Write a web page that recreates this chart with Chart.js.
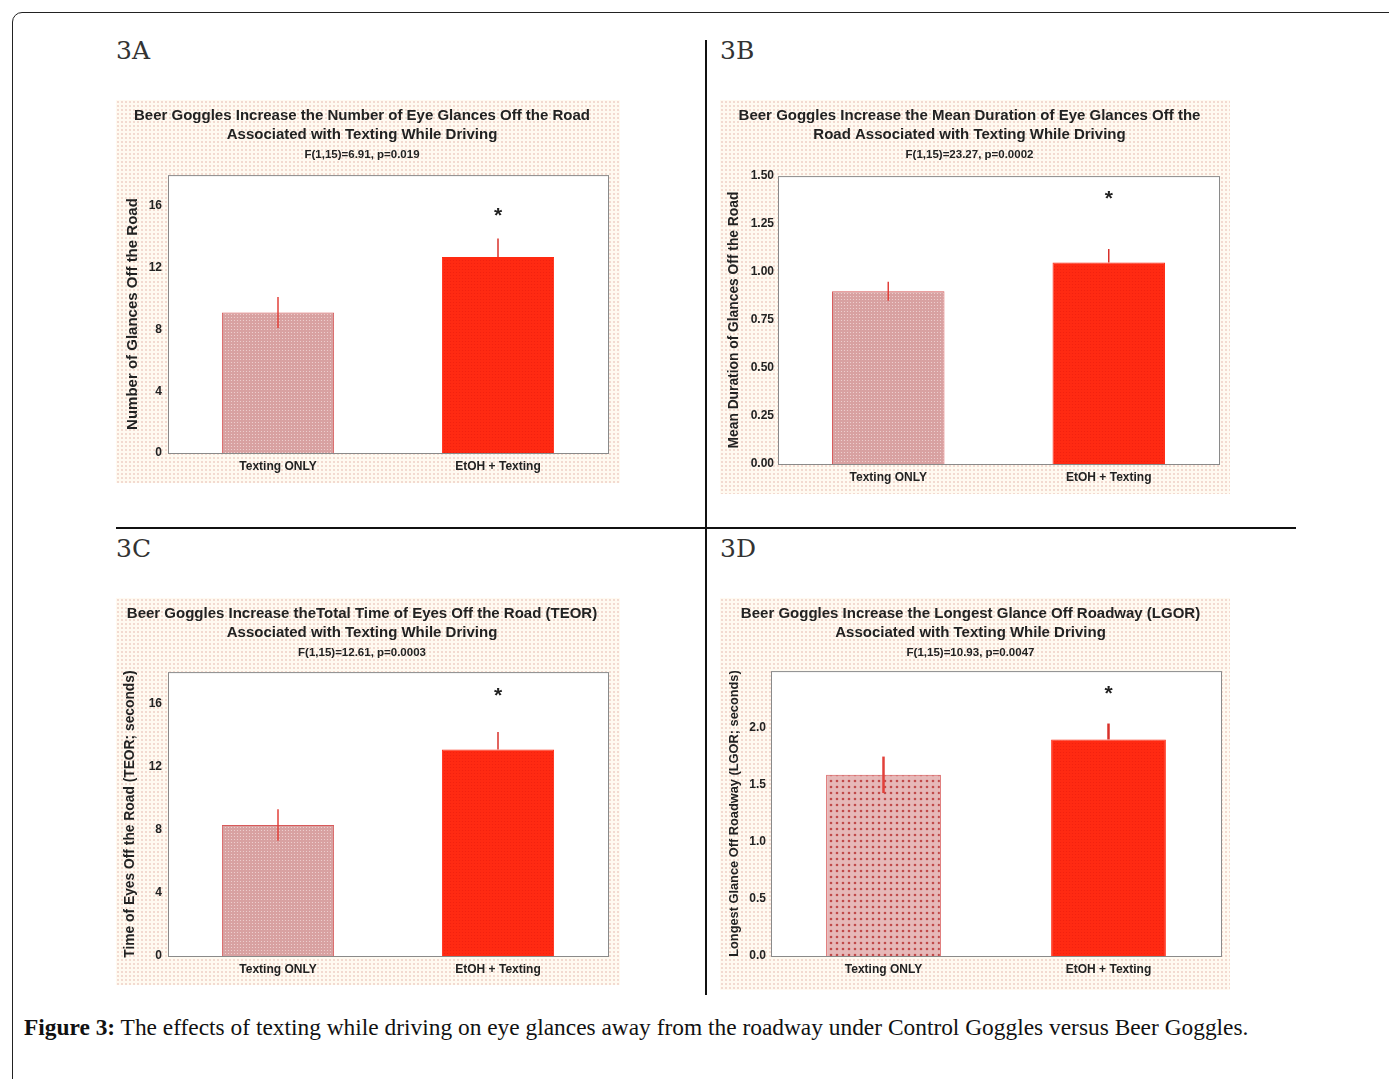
<!DOCTYPE html>
<html>
<head>
<meta charset="utf-8">
<script src="https://cdn.jsdelivr.net/npm/chart.js@4.4.0/dist/chart.umd.min.js"></script>
<style>
  body { margin: 0; width: 1389px; height: 1079px; overflow: hidden; background: #fff; position: relative; }
  .frame { position: absolute; left: 12px; top: 12px; width: 1420px; height: 1120px; border: 1.5px solid #222; border-radius: 10px; }
  .lbl { position: absolute; font-family: "DejaVu Serif", serif; font-size: 25px; color: #333; }
  .vline { position: absolute; left: 705px; top: 40px; width: 2px; height: 955px; background: #111; }
  .hline { position: absolute; left: 116px; top: 527px; width: 1180px; height: 1.5px; background: #111; }
  .panel { position: absolute; background-color: #fffaf1;
    background-image: radial-gradient(#f2d9cf 0.7px, transparent 0.9px);
    background-size: 4px 4px; }
  .caption { position: absolute; left: 24px; top: 1014px; font-family: "Liberation Serif", serif; font-size: 23.4px; color: #111; white-space: nowrap; }
</style>
</head>
<body>
<div class="frame"></div>
<div class="lbl" style="left:116px;top:36px">3A</div>
<div class="lbl" style="left:720px;top:36px">3B</div>
<div class="lbl" style="left:116px;top:534px">3C</div>
<div class="lbl" style="left:720px;top:534px">3D</div>
<div class="vline"></div>
<div class="hline"></div>

<div class="panel" style="left:116px;top:100px;width:504px;height:383px"><canvas id="cA" width="504" height="383"></canvas></div>
<div class="panel" style="left:720px;top:100px;width:510px;height:394px"><canvas id="cB" width="510" height="394"></canvas></div>
<div class="panel" style="left:116px;top:598px;width:504px;height:387px"><canvas id="cC" width="504" height="387"></canvas></div>
<div class="panel" style="left:720px;top:598px;width:510px;height:392px"><canvas id="cD" width="510" height="392"></canvas></div>

<div class="caption"><b>Figure 3:</b> The effects of texting while driving on eye glances away from the roadway under Control Goggles versus Beer Goggles.</div>

<script>
const categories = ['Texting ONLY', 'EtOH + Texting'];

// 3A number of glances
const glanceCount = [9.1, 12.7];
const glanceCountErr = [1.0, 1.2];
// 3B mean duration of glances
const meanDuration = [0.90, 1.05];
const meanDurationErr = [0.05, 0.07];
// 3C total eyes-off-road time
const teorTime = [8.3, 13.1];
const teorTimeErr = [1.0, 1.1];
// 3D longest glance
const lgorTime = [1.59, 1.90];
const lgorTimeErr = [0.16, 0.14];

// where the significance star sits (data units), one per panel
const starValues = [15.6, 1.40, 16.75, 2.33];

const ticksA = [0, 4, 8, 12, 16];
const ticksB = [0, 0.25, 0.5, 0.75, 1.0, 1.25, 1.5];
const ticksC = [0, 4, 8, 12, 16];
const ticksD = [0, 0.5, 1.0, 1.5, 2.0];

const FONT = '"Liberation Sans", Arial, sans-serif';

function dotPattern(base, dot, size, r) {
  const c = document.createElement('canvas');
  c.width = size; c.height = size;
  const g = c.getContext('2d');
  g.fillStyle = base;
  g.fillRect(0, 0, size, size);
  g.fillStyle = dot;
  g.beginPath();
  g.arc(size / 2, size / 2, r, 0, Math.PI * 2);
  g.fill();
  return g.createPattern(c, 'repeat');
}

// white plot area with a grey frame
const plotBox = {
  id: 'plotBox',
  beforeDatasetsDraw(chart) {
    const a = chart.chartArea, ctx = chart.ctx;
    ctx.save();
    ctx.fillStyle = '#fff';
    ctx.fillRect(a.left, a.top, a.right - a.left, a.bottom - a.top);
    ctx.restore();
  },
  afterDraw(chart) {
    const a = chart.chartArea, ctx = chart.ctx;
    ctx.save();
    ctx.strokeStyle = '#8a8a8a';
    ctx.lineWidth = 1;
    ctx.strokeRect(a.left + 0.5, a.top + 0.5, a.right - a.left, a.bottom - a.top);
    ctx.restore();
  }
};

// error bars and star from the panel options
const errBars = {
  id: 'errBars',
  afterDatasetsDraw(chart, args, opts) {
    const ctx = chart.ctx, y = chart.scales.y;
    const meta = chart.getDatasetMeta(0);
    const vals = chart.data.datasets[0].data;
    ctx.save();
    meta.data.forEach((bar, i) => {
      const e = opts.errors[i];
      ctx.strokeStyle = opts.colors[i];
      ctx.lineWidth = opts.width;
      ctx.beginPath();
      ctx.moveTo(bar.x, y.getPixelForValue(vals[i] + e));
      ctx.lineTo(bar.x, y.getPixelForValue(opts.below[i] ? vals[i] - e : vals[i]));
      ctx.stroke();
    });
    const last = meta.data[meta.data.length - 1];
    ctx.fillStyle = '#222';
    ctx.font = 'bold 21px ' + FONT;
    ctx.textAlign = 'center';
    ctx.textBaseline = 'middle';
    ctx.fillText('*', last.x, y.getPixelForValue(opts.star) + 4);
    ctx.restore();
  }
};

function makePanel(id, cfg) {
  new Chart(document.getElementById(id), {
    type: 'bar',
    data: {
      labels: categories,
      datasets: [{
        data: cfg.values,
        backgroundColor: [cfg.pinkFill, dotPattern('#ff2a12', '#f02010', 3, 0.6)],
        borderColor: ['#d85a5a', '#ff2a12'],
        borderWidth: 1,
        categoryPercentage: 1,
        barPercentage: 0.51
      }]
    },
    plugins: [plotBox, errBars],
    options: {
      responsive: false,
      animation: false,
      layout: { padding: { right: cfg.padRight, bottom: 0, top: 0, left: 0 } },
      plugins: {
        legend: { display: false },
        tooltip: { enabled: false },
        title: {
          display: true,
          text: cfg.title,
          color: '#222',
          font: { family: FONT, size: 15, weight: 'bold', lineHeight: 1.27 },
          padding: { top: 6.5, bottom: 3 }
        },
        subtitle: {
          display: true,
          text: cfg.subtitle,
          color: '#222',
          font: { family: FONT, size: 11.5, weight: 'bold', lineHeight: 1.2 },
          padding: { top: 0, bottom: cfg.plotTop - 61.3 }
        },
        errBars: {
          errors: cfg.errors, colors: ['#e2403a', '#d8302a'], below: [true, false],
          width: cfg.errWidth, star: cfg.star
        }
      },
      scales: {
        x: {
          grid: { display: false, drawTicks: false },
          border: { display: false },
          ticks: { color: '#222', padding: 6, font: { family: FONT, size: 12, weight: 'bold' } },
          afterFit(s) { s.height = cfg.xHeight; }
        },
        y: {
          min: 0,
          max: cfg.max,
          grid: { display: false, drawTicks: false },
          border: { display: false },
          afterBuildTicks(s) { s.ticks = cfg.ticks.map(v => ({ value: v })); },
          afterFit(s) { s.width = cfg.yWidth; },
          ticks: {
            color: '#222',
            padding: cfg.yTickPad,
            font: { family: FONT, size: 12, weight: 'bold' },
            callback: v => v.toFixed(cfg.decimals)
          },
          title: {
            display: true,
            text: cfg.yTitle,
            color: '#222',
            padding: { top: cfg.yTitlePad, bottom: 0 },
            font: { family: FONT, size: cfg.yTitleSize, weight: 'bold' }
          }
        }
      }
    }
  });
}

const finePink = dotPattern('#d8a1a1', '#f0d6d6', 3, 0.6);
const coarsePink = dotPattern('#e6b8b8', '#c04a4a', 6, 1.3);

makePanel('cA', {
  values: glanceCount, errors: glanceCountErr, star: starValues[0],
  title: ['Beer Goggles Increase the Number of Eye Glances Off the Road', 'Associated with Texting While Driving'],
  subtitle: 'F(1,15)=6.91, p=0.019',
  yTitle: 'Number of Glances Off the Road', yTitleSize: 15, yTitlePad: 8,
  max: 18, ticks: ticksA, decimals: 0,
  plotTop: 75, yWidth: 52, padRight: 12, xHeight: 30, yTickPad: 6,
  pinkFill: finePink, errWidth: 1.5
});

makePanel('cB', {
  values: meanDuration, errors: meanDurationErr, star: starValues[1],
  title: ['Beer Goggles Increase the Mean Duration of Eye Glances Off the', 'Road Associated with Texting While Driving'],
  subtitle: 'F(1,15)=23.27, p=0.0002',
  yTitle: 'Mean Duration of Glances Off the Road', yTitleSize: 13.8, yTitlePad: 6,
  max: 1.5, ticks: ticksB, decimals: 2,
  plotTop: 76, yWidth: 58, padRight: 11, xHeight: 30, yTickPad: 4,
  pinkFill: finePink, errWidth: 1.5
});

makePanel('cC', {
  values: teorTime, errors: teorTimeErr, star: starValues[2],
  title: ['Beer Goggles Increase theTotal Time of Eyes Off the Road (TEOR)', 'Associated with Texting While Driving'],
  subtitle: 'F(1,15)=12.61, p=0.0003',
  yTitle: 'Time of Eyes Off the Road (TEOR; seconds)', yTitleSize: 13.8, yTitlePad: 6,
  max: 18, ticks: ticksC, decimals: 0,
  plotTop: 74, yWidth: 52, padRight: 12, xHeight: 29, yTickPad: 6,
  pinkFill: finePink, errWidth: 1.5
});

makePanel('cD', {
  values: lgorTime, errors: lgorTimeErr, star: starValues[3],
  title: ['Beer Goggles Increase the Longest Glance Off Roadway (LGOR)', 'Associated with Texting While Driving'],
  subtitle: 'F(1,15)=10.93, p=0.0047',
  yTitle: 'Longest Glance Off Roadway (LGOR; seconds)', yTitleSize: 12.8, yTitlePad: 7,
  max: 2.5, ticks: ticksD, decimals: 1,
  plotTop: 73, yWidth: 51, padRight: 9, xHeight: 34, yTickPad: 5,
  pinkFill: coarsePink, errWidth: 2.5
});
</script>
</body>
</html>
